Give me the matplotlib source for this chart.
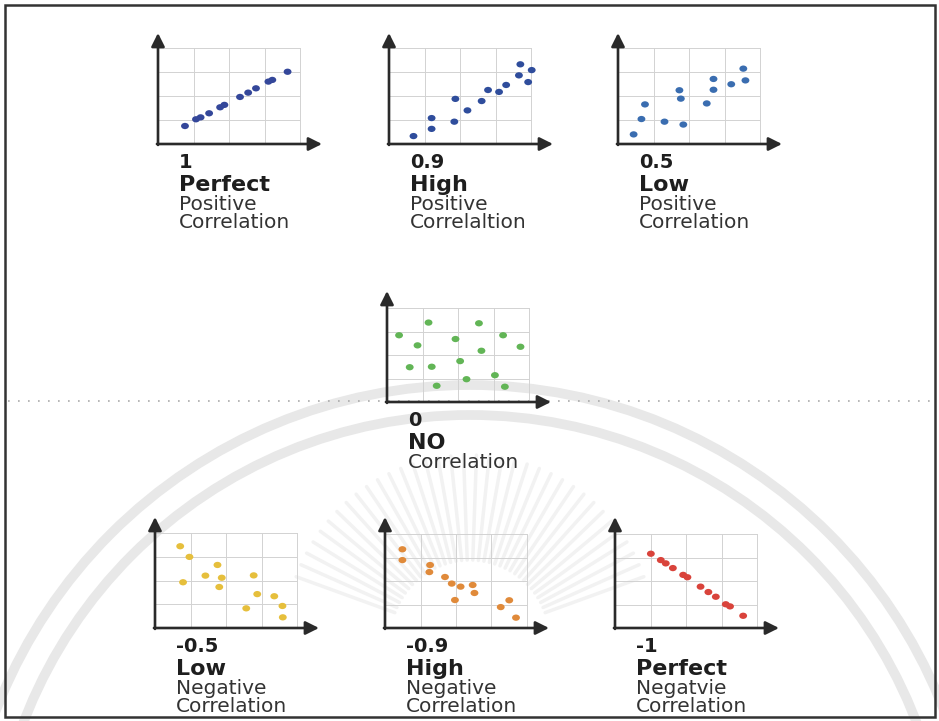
"""Correlation strength overview: seven small scatter sketches with captions."""

import numpy as np
import matplotlib.pyplot as plt
from matplotlib.patches import Arc, Rectangle
from matplotlib.path import Path
from matplotlib.transforms import Affine2D

plt.rcParams["font.family"] = ["DejaVu Sans"]

# ---- data (grid units, 4 x 4 cells per sketch) ----
perfect_pos_x = [0.76, 1.07, 1.20, 1.44, 1.75, 1.87, 2.31, 2.54, 2.76, 3.11, 3.22, 3.65]
perfect_pos_y = [0.75, 1.03, 1.11, 1.28, 1.53, 1.63, 1.96, 2.14, 2.32, 2.60, 2.67, 3.01]

high_pos_x = [0.69, 1.20, 1.20, 1.84, 1.87, 2.21, 2.61, 2.79, 3.10, 3.30, 3.66, 3.70, 3.92, 4.02]
high_pos_y = [0.33, 0.63, 1.08, 0.93, 1.88, 1.40, 1.79, 2.25, 2.17, 2.46, 2.86, 3.32, 2.58, 3.08]

low_pos_x = [0.44, 0.66, 0.76, 1.31, 1.84, 1.73, 1.77, 2.50, 2.69, 2.69, 3.19, 3.53, 3.59]
low_pos_y = [0.40, 1.04, 1.65, 0.93, 0.81, 2.24, 1.89, 1.69, 2.71, 2.26, 2.49, 3.14, 2.65]

no_corr_x = [0.34, 1.17, 0.86, 0.64, 1.26, 1.40, 1.93, 2.06, 2.24, 2.59, 2.66, 3.27, 3.76, 3.04, 3.32]
no_corr_y = [2.84, 3.38, 2.41, 1.48, 1.50, 0.69, 2.68, 1.74, 0.97, 3.35, 2.18, 2.84, 2.35, 1.14, 0.65]

low_neg_x = [0.71, 0.97, 0.79, 1.42, 1.76, 1.88, 1.81, 2.78, 2.88, 2.57, 3.36, 3.59, 3.60]
low_neg_y = [3.45, 3.00, 1.93, 2.21, 2.66, 2.12, 1.73, 2.22, 1.43, 0.83, 1.34, 0.93, 0.45]

high_neg_x = [0.49, 0.49, 1.27, 1.25, 1.69, 1.88, 2.13, 2.47, 2.52, 1.97, 3.26, 3.50, 3.69]
high_neg_y = [3.35, 2.89, 2.68, 2.38, 2.17, 1.89, 1.76, 1.83, 1.49, 1.19, 0.89, 1.18, 0.44]

perfect_neg_x = [1.01, 1.29, 1.43, 1.63, 1.92, 2.04, 2.41, 2.63, 2.84, 3.12, 3.24, 3.61]
perfect_neg_y = [3.16, 2.89, 2.75, 2.55, 2.26, 2.16, 1.76, 1.53, 1.33, 1.01, 0.92, 0.52]

values = ["1", "0.9", "0.5", "0", "-0.5", "-0.9", "-1"]
strengths = ["Perfect", "High", "Low", "NO", "Low", "High", "Perfect"]
directions = ["Positive", "Positive", "Positive", None, "Negative", "Negative", "Negatvie"]
last_words = ["Correlation", "Correlaltion", "Correlation", "Correlation",
              "Correlation", "Correlation", "Correlation"]

# ---- layout (pixels) ----
W, H = 939, 721
# origin x, origin y, cell height, dot colour, data
panels = [
    (158, 144, 24.0, "#34479a", perfect_pos_x, perfect_pos_y),
    (389, 144, 24.0, "#2f4d9c", high_pos_x, high_pos_y),
    (618, 144, 24.0, "#3a6db0", low_pos_x, low_pos_y),
    (387, 402, 23.5, "#62b556", no_corr_x, no_corr_y),
    (155, 628, 23.7, "#e6bf3c", low_neg_x, low_neg_y),
    (385, 628, 23.5, "#e08a3a", high_neg_x, high_neg_y),
    (615, 628, 23.5, "#d9433b", perfect_neg_x, perfect_neg_y),
]
CELL_W = 35.5
X_EXT, Y_EXT = 164, 111

fig = plt.figure(figsize=(W / 100, H / 100), dpi=100)
fig.patch.set_facecolor("white")

bg = fig.add_axes([0, 0, 1, 1])
bg.set_xlim(0, W)
bg.set_ylim(H, 0)
bg.axis("off")

# faint watermark: two rings and a sunburst
for r in (508, 478):
    bg.add_patch(Arc((470, 893), 2 * r, 2 * r, theta1=180, theta2=360,
                     color="#e8e8e8", lw=7, zorder=0))
for ang in np.linspace(200, 340, 36):
    t = np.deg2rad(ang)
    bg.plot([470 + 80 * np.cos(t), 470 + 185 * np.cos(t)],
            [640 + 80 * np.sin(t), 640 + 185 * np.sin(t)],
            color="#f2f2f2", lw=2.5, solid_capstyle="round", zorder=0)

# page frame and dotted divider
bg.add_patch(Rectangle((5, 5), 930, 712, fill=False, ec="#333333", lw=1.8, zorder=1))
bg.plot([8, 932], [401, 401], ls=(0, (1, 5)), color="#aaaaaa", lw=1.2, zorder=1)

# ellipse-shaped dot marker
dot = Path.unit_circle().transformed(Affine2D().scale(1.25, 1.0))

for i, (ox, oy, ch, col, xs, ys) in enumerate(panels):
    xmax = X_EXT / CELL_W
    ymax = Y_EXT / ch
    ax = fig.add_axes([ox / W, 1 - oy / H, X_EXT / W, Y_EXT / H])
    ax.set_xlim(0, xmax)
    ax.set_ylim(0, ymax)
    ax.patch.set_alpha(0)
    ax.axis("off")
    for k in range(1, 5):
        ax.plot([k, k], [0, 4], color="#d2d2d2", lw=0.7, zorder=1, clip_on=False)
        ax.plot([0, 4], [k, k], color="#d2d2d2", lw=0.7, zorder=1, clip_on=False)
    ax.scatter(xs, ys, s=32, marker=dot, color=col, edgecolors="none", zorder=3,
               clip_on=False)
    arrow = dict(arrowstyle="-|>,head_length=0.8,head_width=0.4", color="#2a2a2a",
                 lw=1.9, shrinkA=0, shrinkB=0, mutation_scale=10)
    ax.annotate("", xy=(xmax, 0), xytext=(-0.03, 0), arrowprops=arrow, zorder=4,
                annotation_clip=False)
    ax.annotate("", xy=(0, ymax), xytext=(0, -0.04), arrowprops=arrow, zorder=4,
                annotation_clip=False)

    # captions
    tx = ox + 21
    base = oy + 24
    bg.text(tx, base, values[i], fontsize=14, fontweight="bold", color="#1e1e1e",
            va="baseline", ha="left")
    bg.text(tx, base + 23, strengths[i], fontsize=16, fontweight="bold",
            color="#1e1e1e", va="baseline", ha="left")
    lines = [directions[i], last_words[i]] if directions[i] else [last_words[i]]
    y = base + 42
    for s in lines:
        bg.text(tx, y, s, fontsize=14.5, color="#333333", va="baseline", ha="left")
        y += 18

fig.savefig("out.png", dpi=100)
